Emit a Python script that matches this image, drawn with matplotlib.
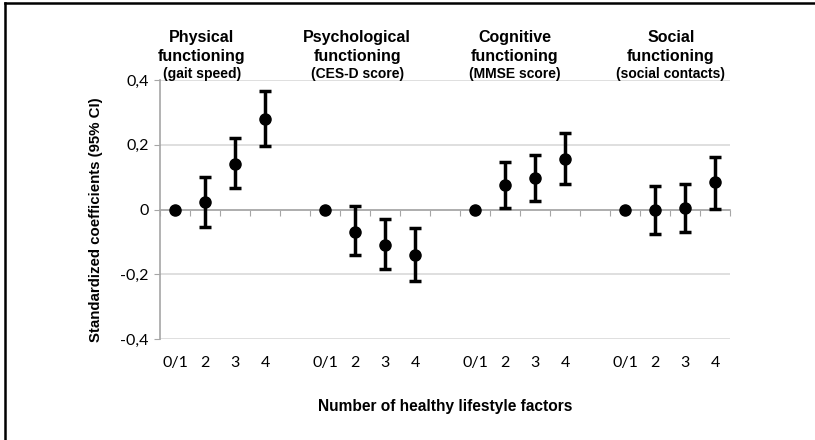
import matplotlib.pyplot as plt
import matplotlib.transforms as mtransforms
from matplotlib.lines import Line2D
import numpy as np

# Data
categories = ["0/1", "2", "3", "4"]
domain_titles = ["Physical\nfunctioning", "Psychological\nfunctioning",
                 "Cognitive\nfunctioning", "Social\nfunctioning"]
domain_outcomes = ["(gait speed)", "(CES-D score)", "(MMSE score)", "(social contacts)"]

physical = [0.0, 0.022, 0.142, 0.280]
physical_lo = [np.nan, -0.055, 0.065, 0.195]
physical_hi = [np.nan, 0.100, 0.220, 0.365]

psychological = [0.0, -0.068, -0.110, -0.140]
psychological_lo = [np.nan, -0.140, -0.185, -0.222]
psychological_hi = [np.nan, 0.012, -0.030, -0.056]

cognitive = [0.0, 0.077, 0.097, 0.155]
cognitive_lo = [np.nan, 0.005, 0.027, 0.078]
cognitive_hi = [np.nan, 0.147, 0.168, 0.235]

social = [0.0, -0.003, 0.004, 0.085]
social_lo = [np.nan, -0.075, -0.070, 0.003]
social_hi = [np.nan, 0.072, 0.080, 0.163]

yticks = [-0.4, -0.2, 0.0, 0.2, 0.4]
ytick_labels = ["-0,4", "-0,2", "0", "0,2", "0,4"]

groups = [
    (physical, physical_lo, physical_hi),
    (psychological, psychological_lo, psychological_hi),
    (cognitive, cognitive_lo, cognitive_hi),
    (social, social_lo, social_hi),
]

num_font = "Lato"
bold_font = "Liberation Sans"
grey_axis = "#a6a6a6"
grey_grid = "#d9d9d9"

fig = plt.figure(figsize=(8.15, 4.4), dpi=100)
ax = fig.add_axes([160 / 815, 1 - 339 / 440, 570 / 815, 259 / 440])

# one empty category between the groups, like the original
step = len(categories) + 1
n_slots = step * len(groups) - 1

for g, (est, lo, hi) in enumerate(groups):
    est = np.array(est)
    lo = np.array(lo)
    hi = np.array(hi)
    x = g * step + np.arange(len(categories))
    has_ci = ~np.isnan(lo)
    ax.errorbar(x[has_ci], est[has_ci],
                yerr=[est[has_ci] - lo[has_ci], hi[has_ci] - est[has_ci]],
                fmt="o", color="black", markersize=8, elinewidth=2.5,
                capsize=4.5, capthick=2.5, zorder=4)
    ax.plot(x[~has_ci], est[~has_ci], "o", color="black", markersize=8, zorder=4)

ax.set_xlim(-0.5, n_slots - 0.5)
ax.set_ylim(-0.4, 0.4)

# y axis
ax.set_yticks(yticks)
ax.set_yticklabels(ytick_labels, fontfamily=num_font, fontsize=11.5)
ax.tick_params(axis="y", length=4, color=grey_axis, pad=4)
ax.grid(axis="y", color=grey_grid, linewidth=1.2)
ax.set_axisbelow(True)

for side in ["top", "right"]:
    ax.spines[side].set_visible(False)
ax.spines["left"].set_color(grey_axis)
ax.spines["left"].set_linewidth(1.2)

# horizontal axis crosses at zero, tick marks between categories
ax.spines["bottom"].set_position(("data", 0))
ax.spines["bottom"].set_color(grey_axis)
ax.spines["bottom"].set_linewidth(1.2)
ax.set_xticks(np.arange(n_slots + 1) - 0.5)
ax.set_xticklabels([])
ax.tick_params(axis="x", length=4, color=grey_axis, direction="out")

# category labels below the plot area
sec = ax.secondary_xaxis("bottom")
pos, labs = [], []
for g in range(len(groups)):
    for i, c in enumerate(categories):
        pos.append(g * step + i)
        labs.append(c)
sec.set_xticks(pos)
sec.set_xticklabels(labs, fontfamily=num_font, fontsize=11.5)
sec.tick_params(length=0, pad=12)
sec.spines["bottom"].set_visible(False)

ax.set_ylabel("Standardized coefficients (95% CI)", fontfamily=bold_font,
              fontweight="bold", fontsize=10.8)
ax.yaxis.set_label_coords(103 / 815, 0.5, transform=fig.transFigure)
fig.text(445 / 815, 1 - 406 / 440, "Number of healthy lifestyle factors",
         ha="center", va="center", fontfamily=bold_font, fontweight="bold",
         fontsize=11.2)

# group headings
trans = mtransforms.blended_transform_factory(ax.transData, fig.transFigure)
title_x = [0.9, 6.07, 11.33, 16.53]
for tx, title, outcome in zip(title_x, domain_titles, domain_outcomes):
    ax.text(tx, 1 - 47 / 440, title, transform=trans, ha="center", va="center",
            fontfamily=bold_font, fontweight="bold", fontsize=11.5,
            linespacing=1.3)
    ax.text(tx, 1 - 74 / 440, outcome, transform=trans, ha="center",
            va="center", fontfamily=bold_font, fontweight="bold", fontsize=10)

# frame lines at the top and left of the picture
fig.add_artist(Line2D([5 / 815, 1], [1 - 3 / 440, 1 - 3 / 440],
                      transform=fig.transFigure, color="black", linewidth=1.8))
fig.add_artist(Line2D([5 / 815, 5 / 815], [0, 1 - 3 / 440],
                      transform=fig.transFigure, color="black", linewidth=1.8))

fig.savefig("out.png", dpi=100)
